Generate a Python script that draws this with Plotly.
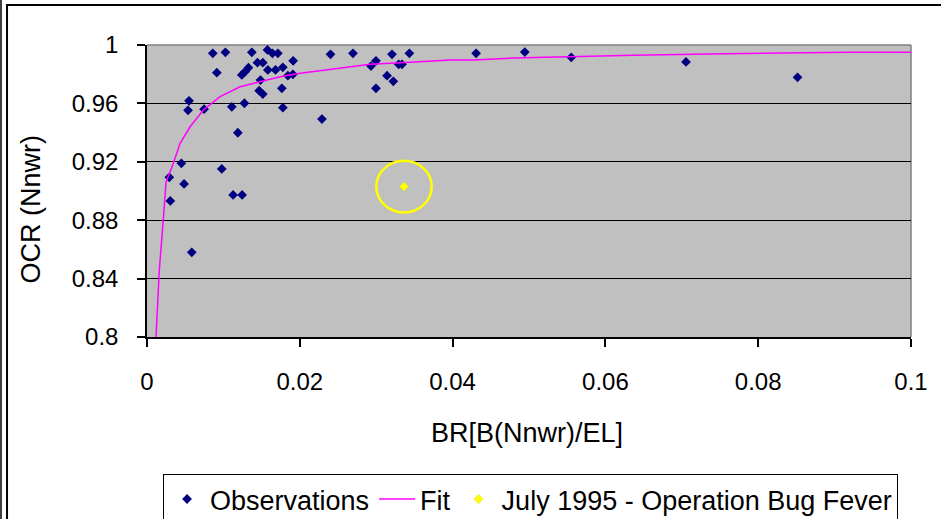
import plotly.graph_objects as go

# Observations (BR, OCR)
obs_br = [0.00861, 0.01026, 0.00914, 0.01372, 0.01577, 0.01642, 0.01713, 0.01446, 0.01516, 0.01913,
          0.01241, 0.01284, 0.01328, 0.01582, 0.01682, 0.01778, 0.01844, 0.01910, 0.01485, 0.01468,
          0.01516, 0.01765, 0.00550, 0.00537, 0.00747, 0.01110, 0.01275, 0.01778, 0.01189, 0.00450,
          0.00292, 0.00485, 0.00979, 0.00305, 0.01127, 0.01245, 0.00586, 0.02402, 0.02696, 0.02932,
          0.02997, 0.03207, 0.03434, 0.03294, 0.03338, 0.03142, 0.03224, 0.02997, 0.02290, 0.04308,
          0.04945, 0.05553, 0.07055, 0.08515]
obs_ocr = [0.9943, 0.9950, 0.9810, 0.9950, 0.9966, 0.9943, 0.9943, 0.9879, 0.9879, 0.9892,
           0.9795, 0.9817, 0.9845, 0.9829, 0.9829, 0.9847, 0.9790, 0.9799, 0.9760, 0.9687,
           0.9664, 0.9703, 0.9618, 0.9553, 0.9560, 0.9577, 0.9601, 0.9571, 0.9399, 0.9190,
           0.9094, 0.9048, 0.9151, 0.8932, 0.8973, 0.8973, 0.8580, 0.9936, 0.9943, 0.9856,
           0.9892, 0.9936, 0.9943, 0.9868, 0.9868, 0.9790, 0.9751, 0.9703, 0.9493, 0.9943,
           0.9952, 0.9916, 0.9884, 0.9779]

# Fit curve
fit_br = [0.00118, 0.00161, 0.00214, 0.00249, 0.00345, 0.00410, 0.00433, 0.00564, 0.00738, 0.00957,
          0.01219, 0.01481, 0.01743, 0.02005, 0.02923, 0.03447, 0.03971, 0.04273, 0.04797, 0.06370,
          0.07549, 0.09187, 0.10092]
fit_ocr = [0.8000, 0.8459, 0.8808, 0.9060, 0.9190, 0.9281, 0.9327, 0.9440, 0.9555, 0.9646,
           0.9714, 0.9749, 0.9783, 0.9806, 0.9868, 0.9882, 0.9897, 0.9897, 0.9911, 0.9929,
           0.9940, 0.9950, 0.9950]

# July 1995 highlighted point
july_br = [0.03364]
july_ocr = [0.9030]

x_ticks = [0, 0.02, 0.04, 0.06, 0.08, 0.1]
x_tick_text = ["0", "0.02", "0.04", "0.06", "0.08", "0.1"]
y_ticks = [0.8, 0.84, 0.88, 0.92, 0.96, 1.0]
y_tick_text = ["0.8", "0.84", "0.88", "0.92", "0.96", "1"]

FONT = "Liberation Sans, Arial, sans-serif"

fig = go.Figure()
fig.add_trace(go.Scatter(x=obs_br, y=obs_ocr, mode="markers", name="Observations",
                         marker=dict(symbol="diamond", size=7.5, color="#000080")))
fig.add_trace(go.Scatter(x=fit_br, y=fit_ocr, mode="lines", name="Fit",
                         line=dict(color="#FF00FF", width=1.5)))
fig.add_trace(go.Scatter(x=july_br, y=july_ocr, mode="markers", name="July 1995 - Operation Bug Fever",
                         marker=dict(symbol="diamond", size=7, color="#FFFF00",
                                     line=dict(color="#D8D800", width=0.5))))

# highlight circle around the July 1995 point
rx, ry = 0.00363, 0.0177
fig.add_shape(type="circle", xref="x", yref="y",
              x0=july_br[0] - rx, x1=july_br[0] + rx, y0=july_ocr[0] - ry, y1=july_ocr[0] + ry,
              line=dict(color="#FFFF00", width=2.5))

# gray top/right plot border
fig.add_shape(type="line", xref="paper", yref="paper", x0=0, x1=1, y0=1, y1=1,
              line=dict(color="#808080", width=1.5), layer="between")
fig.add_shape(type="line", xref="paper", yref="paper", x0=1, x1=1, y0=0, y1=1,
              line=dict(color="#808080", width=1.5), layer="between")

# chart-area frame lines
fig.add_shape(type="rect", xref="paper", yref="paper", x0=-0.1832, x1=1.2, y0=-0.8, y1=1.137,
              line=dict(color="black", width=2))
fig.add_shape(type="line", xref="paper", yref="paper", x0=-0.1911, x1=-0.1911, y0=-0.8, y1=1.3,
              line=dict(color="black", width=1.5))

fig.update_layout(
    width=941, height=519,
    margin=dict(l=147, r=30, t=45, b=182, autoexpand=False),
    paper_bgcolor="white", plot_bgcolor="#C0C0C0",
    font=dict(family=FONT, color="black", size=24),
    showlegend=True,
    legend=dict(orientation="h", x=0.021, xanchor="left", y=-0.469, yanchor="top",
                bordercolor="black", borderwidth=1, bgcolor="white",
                font=dict(size=27), itemwidth=36, tracegroupgap=0),
    xaxis=dict(range=[0, 0.1], tickvals=x_ticks, ticktext=x_tick_text,
               showgrid=False, zeroline=False, showline=True, linecolor="black", linewidth=1.5,
               ticks="outside", ticklen=8, tickcolor="black", tickwidth=1.5,
               ticklabelstandoff=14, tickfont=dict(size=24)),
    yaxis=dict(range=[0.8, 1.0], tickvals=y_ticks, ticktext=y_tick_text,
               showgrid=True, gridcolor="black", gridwidth=1, zeroline=False,
               showline=True, linecolor="black", linewidth=1.5,
               ticks="outside", ticklen=8, tickcolor="black", tickwidth=1.5,
               ticklabelstandoff=14, tickfont=dict(size=24)),
    annotations=[
        dict(text="BR[B(Nnwr)/EL]", xref="paper", yref="paper", x=0.497, y=-0.33,
             xanchor="center", yanchor="middle", showarrow=False, font=dict(size=27)),
        dict(text="OCR (Nnwr)", xref="paper", yref="paper", x=-0.152, y=0.44,
             xanchor="center", yanchor="middle", showarrow=False, textangle=-90,
             font=dict(size=27)),
    ],
)

fig.write_html("out.html", config={"displayModeBar": False},
               post_script="document.body.style.margin='0';")
